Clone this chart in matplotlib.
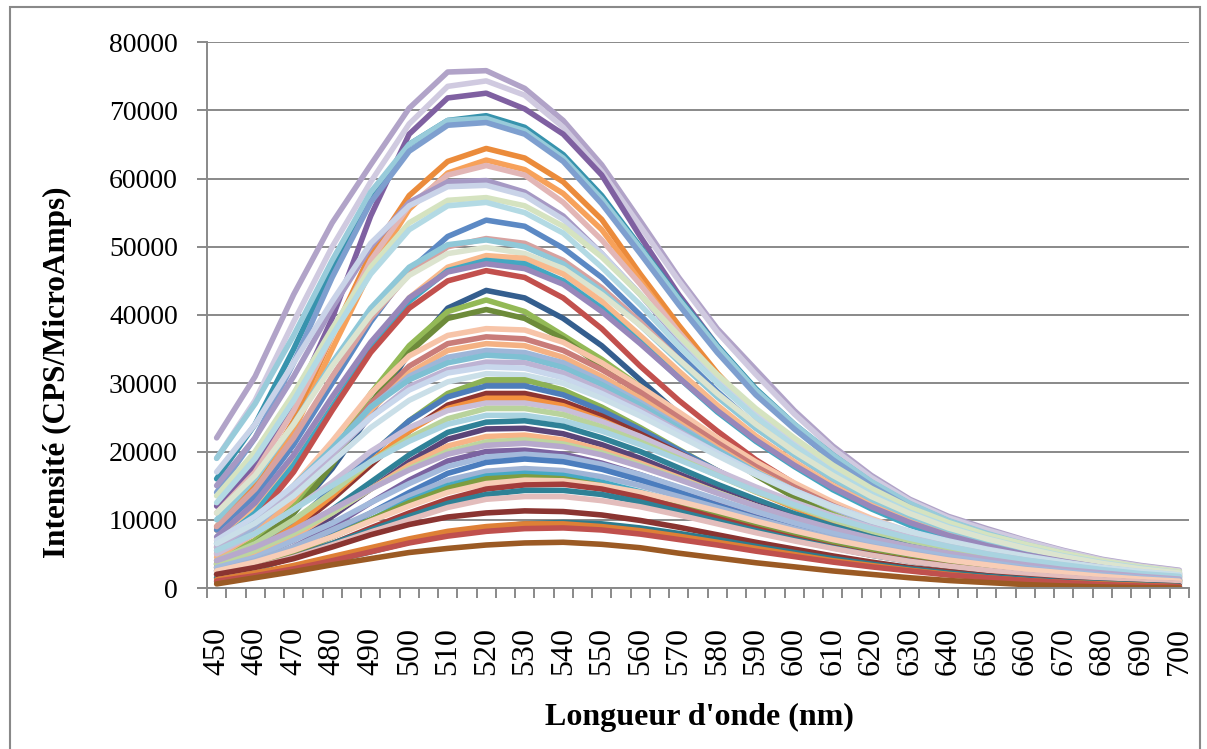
#Spectres de fluorescence - recreation du graphique Excel
import matplotlib
matplotlib.use("Agg")
import matplotlib.pyplot as plt
from matplotlib.patches import Rectangle
from matplotlib.ticker import FixedLocator

plt.rcParams['font.family'] = ['Liberation Serif', 'DejaVu Serif']

#Data (intensite en milliers de CPS/MicroAmps)
wavelengths = [450, 460, 470, 480, 490, 500, 510, 520, 530, 540, 550, 560, 570,
               580, 590, 600, 610, 620, 630, 640, 650, 660, 670, 680, 690, 700]
tick_labels = [str(w) for w in wavelengths]
y_ticks = [0, 10000, 20000, 30000, 40000, 50000, 60000, 70000, 80000]

s01 = [22.0, 31.0, 43.0, 53.5, 62.0, 70.3, 75.6, 75.8, 73.2, 68.5, 62.0, 53.8, 45.5, 38.0, 32.0, 26.0, 20.8, 16.5, 13.0, 10.5, 8.7, 7.0, 5.5, 4.2, 3.3, 2.6]
s02 = [19.0, 27.5, 39.0, 50.0, 59.5, 68.0, 73.5, 74.3, 72.2, 67.5, 61.0, 53.0, 45.0, 37.5, 31.3, 25.5, 20.4, 16.2, 12.8, 10.3, 8.5, 6.9, 5.4, 4.1, 3.2, 2.5]
s03 = [12.0, 18.0, 27.0, 39.5, 54.5, 66.5, 71.8, 72.5, 70.2, 66.5, 60.5, 51.5, 43.0, 35.5, 29.0, 23.5, 18.8, 14.8, 11.6, 9.2, 7.3, 5.8, 4.5, 3.4, 2.6, 2.0]
s04 = [16.0, 24.0, 35.0, 47.0, 57.5, 65.0, 68.5, 69.2, 67.5, 63.5, 57.5, 50.0, 42.5, 35.5, 29.2, 24.0, 19.5, 15.5, 12.3, 9.8, 7.9, 6.3, 5.0, 3.8, 2.9, 2.2]
s05 = [19.0, 27.0, 37.0, 48.0, 58.0, 65.0, 68.5, 68.8, 67.0, 63.0, 57.0, 49.8, 42.3, 35.3, 29.0, 24.0, 19.5, 15.6, 12.4, 9.9, 8.0, 6.4, 5.1, 3.9, 3.0, 2.3]
s06 = [14.0, 22.0, 33.0, 45.5, 56.5, 64.0, 67.8, 68.2, 66.5, 62.5, 56.3, 49.0, 41.5, 34.5, 28.3, 23.3, 18.8, 15.0, 11.8, 9.4, 7.5, 6.0, 4.7, 3.6, 2.7, 2.1]
s07 = [9.0, 15.0, 24.5, 37.0, 49.0, 57.5, 62.5, 64.4, 63.0, 59.5, 54.0, 46.0, 38.5, 31.5, 25.5, 21.0, 16.8, 13.3, 10.4, 8.2, 6.5, 5.2, 4.1, 3.1, 2.4, 1.8]
s08 = [8.5, 14.0, 23.0, 35.0, 46.5, 55.5, 60.8, 62.7, 61.3, 57.8, 52.5, 45.0, 37.5, 30.8, 25.0, 20.5, 16.3, 13.0, 10.2, 8.1, 6.5, 5.2, 4.1, 3.1, 2.4, 1.8]
s09 = [11.0, 17.0, 26.0, 37.0, 48.0, 56.0, 60.5, 61.9, 60.5, 56.5, 51.0, 44.5, 37.5, 31.0, 25.5, 21.0, 17.0, 13.6, 10.8, 8.6, 6.9, 5.5, 4.3, 3.3, 2.6, 2.0]
s10 = [15.0, 22.0, 31.0, 41.0, 50.0, 56.5, 59.5, 59.7, 58.0, 54.5, 49.0, 43.0, 36.5, 30.5, 25.3, 21.0, 17.0, 13.7, 11.0, 8.8, 7.1, 5.7, 4.5, 3.5, 2.7, 2.1]
s11 = [17.0, 24.0, 33.0, 42.0, 50.5, 56.0, 58.8, 59.0, 57.5, 54.0, 49.0, 43.0, 36.8, 31.0, 25.8, 21.5, 17.5, 14.2, 11.4, 9.2, 7.5, 6.1, 4.9, 3.8, 3.0, 2.3]
s12 = [13.5, 20.0, 28.5, 38.0, 47.0, 53.5, 56.8, 57.2, 56.0, 53.0, 48.5, 43.0, 37.0, 31.3, 26.3, 22.0, 18.0, 14.6, 11.8, 9.6, 7.8, 6.4, 5.1, 4.0, 3.1, 2.4]
s13 = [12.5, 19.0, 27.5, 37.0, 46.0, 52.5, 56.0, 56.5, 55.0, 52.0, 47.0, 41.5, 35.5, 30.0, 25.0, 20.8, 17.0, 13.8, 11.1, 9.0, 7.3, 5.9, 4.7, 3.7, 2.9, 2.2]
s14 = [8.5, 13.5, 21.0, 30.0, 39.0, 46.5, 51.5, 53.9, 53.0, 49.8, 45.5, 40.0, 34.3, 28.8, 23.8, 19.7, 16.0, 12.8, 10.2, 8.1, 6.4, 5.1, 4.0, 3.1, 2.4, 1.8]
s15 = [9.0, 14.5, 22.0, 31.0, 39.5, 46.0, 50.0, 51.2, 50.5, 48.0, 44.0, 39.0, 33.5, 28.2, 23.5, 19.5, 15.9, 12.8, 10.3, 8.2, 6.6, 5.3, 4.2, 3.3, 2.5, 1.9]
s16 = [10.0, 16.0, 24.0, 33.0, 41.0, 47.0, 50.3, 51.0, 50.0, 47.5, 43.5, 38.5, 33.2, 28.0, 23.4, 19.5, 16.0, 13.0, 10.5, 8.4, 6.8, 5.5, 4.4, 3.4, 2.6, 2.0]
s17 = [11.0, 16.5, 24.0, 32.5, 40.0, 45.8, 49.0, 49.9, 49.0, 46.8, 43.0, 38.5, 33.5, 28.5, 24.0, 20.0, 16.5, 13.4, 10.9, 8.8, 7.2, 5.8, 4.6, 3.6, 2.8, 2.2]
s18 = [7.0, 11.5, 18.5, 27.0, 35.5, 42.5, 47.0, 48.7, 48.3, 46.0, 42.0, 37.0, 31.8, 26.8, 22.3, 18.5, 15.0, 12.1, 9.7, 7.7, 6.1, 4.8, 3.8, 2.9, 2.2, 1.7]
s19 = [6.5, 11.0, 18.0, 26.5, 35.0, 42.0, 46.5, 48.0, 47.5, 45.0, 41.0, 36.0, 30.8, 25.8, 21.5, 17.8, 14.4, 11.6, 9.2, 7.3, 5.8, 4.6, 3.6, 2.8, 2.1, 1.6]
s20 = [7.5, 12.5, 19.5, 28.0, 36.0, 42.5, 46.3, 47.5, 46.8, 44.5, 40.5, 35.8, 30.8, 26.0, 21.7, 18.0, 14.7, 11.9, 9.6, 7.7, 6.2, 4.9, 3.9, 3.0, 2.3, 1.7]
s21 = [6.0, 10.0, 17.0, 26.0, 34.5, 41.0, 45.0, 46.5, 45.5, 42.5, 38.0, 32.5, 27.5, 23.0, 18.8, 15.3, 12.3, 9.8, 7.8, 6.2, 4.9, 3.8, 3.0, 2.3, 1.7, 1.3]
s22 = [3.5, 6.5, 11.0, 17.5, 25.5, 34.5, 41.0, 43.6, 42.5, 39.5, 35.5, 30.5, 25.5, 21.0, 17.0, 13.8, 11.0, 8.8, 7.0, 5.6, 4.4, 3.5, 2.7, 2.1, 1.6, 1.2]
s23 = [4.0, 7.0, 12.0, 19.5, 28.5, 35.5, 40.5, 42.2, 40.5, 37.0, 33.5, 29.5, 25.5, 21.3, 17.2, 13.8, 11.0, 8.8, 7.0, 5.5, 4.3, 3.4, 2.6, 2.0, 1.5, 1.1]
s24 = [3.5, 6.5, 11.0, 18.0, 27.0, 34.5, 39.5, 40.8, 39.5, 36.5, 32.5, 28.5, 24.5, 20.3, 16.5, 13.3, 10.6, 8.4, 6.6, 5.2, 4.1, 3.2, 2.5, 1.9, 1.4, 1.0]
s25 = [6.0, 9.5, 15.0, 21.5, 28.5, 34.0, 37.0, 38.0, 37.8, 36.0, 33.0, 29.5, 25.8, 22.0, 18.5, 15.4, 12.6, 10.2, 8.2, 6.6, 5.3, 4.2, 3.3, 2.6, 2.0, 1.5]
s26 = [5.0, 8.5, 13.5, 20.0, 27.0, 32.5, 35.8, 36.8, 36.5, 34.8, 32.0, 28.7, 25.0, 21.3, 17.8, 14.8, 12.1, 9.8, 7.9, 6.3, 5.0, 4.0, 3.1, 2.4, 1.8, 1.4]
s27 = [4.5, 8.0, 13.0, 19.5, 26.0, 31.5, 34.8, 35.8, 35.5, 33.8, 31.0, 27.8, 24.2, 20.6, 17.2, 14.3, 11.7, 9.5, 7.6, 6.1, 4.8, 3.8, 3.0, 2.3, 1.7, 1.3]
s28 = [5.5, 9.0, 14.0, 20.0, 26.5, 31.0, 33.8, 34.8, 34.5, 33.0, 30.3, 27.2, 23.8, 20.3, 17.0, 14.2, 11.7, 9.5, 7.7, 6.2, 5.0, 4.0, 3.2, 2.5, 1.9, 1.5]
s29 = [6.5, 10.0, 15.0, 20.5, 26.5, 30.5, 33.0, 34.1, 33.8, 32.3, 29.8, 26.8, 23.5, 20.2, 17.0, 14.3, 11.9, 9.8, 8.0, 6.5, 5.3, 4.3, 3.4, 2.7, 2.1, 1.6]
s30 = [6.0, 9.5, 14.0, 19.5, 25.0, 29.5, 32.0, 33.1, 33.0, 31.5, 29.0, 26.2, 23.0, 19.8, 16.8, 14.1, 11.8, 9.8, 8.0, 6.6, 5.4, 4.4, 3.5, 2.8, 2.2, 1.7]
s31 = [7.0, 10.5, 15.0, 20.0, 25.0, 29.0, 31.5, 32.4, 32.2, 30.8, 28.5, 25.8, 22.8, 19.8, 16.9, 14.3, 12.0, 10.0, 8.3, 6.9, 5.7, 4.7, 3.8, 3.0, 2.4, 1.9]
s32 = [6.5, 9.5, 13.5, 18.5, 23.5, 27.5, 30.2, 31.4, 31.2, 30.0, 27.8, 25.2, 22.3, 19.4, 16.6, 14.0, 11.8, 9.8, 8.2, 6.8, 5.6, 4.6, 3.7, 3.0, 2.4, 1.9]
s33 = [3.0, 5.5, 9.0, 14.0, 19.5, 24.5, 28.5, 30.5, 30.5, 29.0, 26.5, 23.5, 20.3, 17.2, 14.3, 11.8, 9.6, 7.8, 6.3, 5.0, 4.0, 3.2, 2.5, 1.9, 1.4, 1.0]
s34 = [3.5, 6.0, 9.5, 14.5, 19.5, 24.5, 28.0, 29.6, 29.6, 28.3, 26.0, 23.2, 20.2, 17.2, 14.4, 12.0, 9.8, 8.0, 6.5, 5.2, 4.2, 3.3, 2.6, 2.0, 1.5, 1.1]
s35 = [3.0, 5.0, 8.5, 13.0, 18.0, 23.0, 26.8, 28.5, 28.5, 27.3, 25.2, 22.6, 19.8, 17.0, 14.3, 11.9, 9.8, 8.0, 6.5, 5.2, 4.2, 3.3, 2.6, 2.0, 1.5, 1.1]
s36 = [3.5, 5.5, 9.0, 13.5, 18.5, 23.0, 26.3, 27.8, 27.8, 26.7, 24.6, 22.1, 19.4, 16.7, 14.1, 11.8, 9.8, 8.0, 6.5, 5.3, 4.3, 3.4, 2.7, 2.1, 1.6, 1.2]
s37 = [5.0, 8.0, 11.5, 15.5, 20.0, 23.5, 26.0, 27.1, 27.1, 26.2, 24.4, 22.2, 19.7, 17.2, 14.8, 12.6, 10.6, 8.9, 7.4, 6.1, 5.0, 4.1, 3.3, 2.6, 2.0, 1.6]
s38 = [4.0, 6.5, 10.0, 14.0, 18.5, 22.0, 24.8, 26.3, 26.3, 25.4, 23.6, 21.4, 19.0, 16.5, 14.1, 12.0, 10.0, 8.3, 6.9, 5.7, 4.6, 3.7, 3.0, 2.4, 1.8, 1.4]
s39 = [5.5, 8.0, 11.5, 15.0, 18.5, 21.5, 24.0, 25.3, 25.3, 24.5, 23.0, 21.0, 18.8, 16.5, 14.2, 12.2, 10.3, 8.7, 7.3, 6.1, 5.0, 4.1, 3.4, 2.7, 2.1, 1.7]
s40 = [2.5, 4.5, 7.5, 11.5, 15.5, 19.5, 22.8, 24.3, 24.5, 23.7, 22.0, 20.0, 17.6, 15.2, 13.0, 10.9, 9.1, 7.5, 6.1, 5.0, 4.0, 3.2, 2.5, 1.9, 1.4, 1.0]
s41 = [2.5, 4.5, 7.0, 10.5, 14.5, 18.5, 21.8, 23.3, 23.4, 22.6, 21.0, 19.0, 16.7, 14.4, 12.2, 10.3, 8.5, 7.0, 5.7, 4.6, 3.7, 2.9, 2.3, 1.7, 1.3, 0.9]
s42 = [3.0, 5.0, 7.5, 11.0, 14.5, 18.0, 20.8, 22.2, 22.4, 21.7, 20.2, 18.3, 16.2, 14.0, 12.0, 10.1, 8.4, 7.0, 5.8, 4.7, 3.8, 3.1, 2.4, 1.9, 1.4, 1.1]
s43 = [3.5, 5.5, 8.0, 11.0, 14.5, 17.5, 20.0, 21.4, 21.7, 21.1, 19.8, 18.0, 16.0, 14.0, 12.0, 10.2, 8.6, 7.2, 6.0, 4.9, 4.0, 3.2, 2.6, 2.0, 1.5, 1.2]
s44 = [4.0, 6.0, 8.5, 11.5, 14.5, 17.3, 19.6, 20.9, 21.2, 20.7, 19.5, 17.8, 15.9, 13.9, 12.0, 10.3, 8.7, 7.3, 6.1, 5.1, 4.2, 3.4, 2.7, 2.2, 1.7, 1.3]
s45 = [2.0, 3.5, 6.0, 9.0, 12.5, 15.8, 18.6, 20.0, 20.2, 19.6, 18.3, 16.6, 14.7, 12.7, 10.8, 9.1, 7.6, 6.2, 5.1, 4.1, 3.3, 2.6, 2.0, 1.5, 1.1, 0.8]
s46 = [3.0, 4.5, 7.0, 9.5, 12.5, 15.3, 17.8, 19.2, 19.6, 19.2, 18.1, 16.6, 14.8, 13.0, 11.2, 9.5, 8.0, 6.7, 5.6, 4.6, 3.8, 3.0, 2.4, 1.9, 1.5, 1.1]
s47 = [2.0, 3.5, 5.5, 8.0, 11.0, 14.0, 16.8, 18.4, 18.9, 18.5, 17.4, 15.8, 14.0, 12.1, 10.3, 8.7, 7.2, 5.9, 4.8, 3.9, 3.1, 2.5, 1.9, 1.5, 1.1, 0.8]
s48 = [2.5, 4.0, 6.0, 8.5, 11.0, 13.5, 15.8, 17.1, 17.5, 17.2, 16.3, 15.0, 13.4, 11.8, 10.2, 8.7, 7.3, 6.1, 5.1, 4.2, 3.4, 2.8, 2.2, 1.7, 1.3, 1.0]
s49 = [1.5, 3.0, 5.0, 7.5, 10.0, 12.8, 15.0, 16.4, 16.8, 16.5, 15.5, 14.1, 12.5, 10.8, 9.2, 7.7, 6.4, 5.2, 4.3, 3.5, 2.8, 2.2, 1.7, 1.3, 1.0, 0.7]
s50 = [2.0, 3.2, 5.2, 7.5, 10.0, 12.5, 14.6, 16.0, 16.3, 16.0, 15.0, 13.7, 12.2, 10.6, 9.0, 7.6, 6.3, 5.2, 4.2, 3.4, 2.7, 2.2, 1.7, 1.3, 1.0, 0.7]
s51 = [2.5, 3.8, 5.5, 7.5, 9.8, 12.0, 14.0, 15.3, 15.8, 15.7, 15.0, 14.0, 12.7, 11.3, 9.8, 8.4, 7.1, 6.0, 5.0, 4.1, 3.4, 2.7, 2.2, 1.7, 1.3, 1.0]
s52 = [1.5, 2.8, 4.5, 6.5, 8.8, 11.0, 13.0, 14.5, 15.1, 15.2, 14.5, 13.3, 11.8, 10.2, 8.7, 7.3, 6.0, 4.9, 4.0, 3.2, 2.5, 1.9, 1.5, 1.1, 0.8, 0.6]
s53 = [1.5, 2.8, 4.5, 6.5, 8.5, 10.5, 12.4, 13.7, 14.3, 14.3, 13.7, 12.6, 11.2, 9.8, 8.4, 7.1, 5.9, 4.8, 3.9, 3.1, 2.5, 1.9, 1.5, 1.1, 0.8, 0.6]
s54 = [2.0, 3.0, 4.5, 6.3, 8.2, 10.0, 11.8, 13.0, 13.4, 13.4, 12.8, 11.9, 10.7, 9.4, 8.1, 6.9, 5.8, 4.8, 3.9, 3.2, 2.6, 2.0, 1.6, 1.2, 0.9, 0.7]
s55 = [2.0, 3.0, 4.3, 6.0, 7.8, 9.3, 10.4, 11.0, 11.3, 11.2, 10.7, 9.9, 8.9, 7.8, 6.7, 5.7, 4.7, 3.8, 3.0, 2.4, 1.8, 1.4, 1.0, 0.7, 0.5, 0.3]
s56 = [1.0, 1.8, 2.8, 4.0, 5.3, 6.7, 7.9, 8.8, 9.4, 9.6, 9.4, 8.8, 8.0, 7.1, 6.1, 5.2, 4.3, 3.5, 2.8, 2.2, 1.7, 1.3, 0.9, 0.7, 0.5, 0.3]
s57 = [1.2, 2.2, 3.3, 4.6, 5.9, 7.2, 8.3, 9.0, 9.4, 9.4, 9.0, 8.4, 7.6, 6.7, 5.8, 4.9, 4.0, 3.3, 2.6, 2.0, 1.5, 1.1, 0.8, 0.6, 0.4, 0.2]
s58 = [1.0, 1.8, 2.8, 4.0, 5.3, 6.6, 7.6, 8.3, 8.7, 8.8, 8.5, 7.9, 7.1, 6.3, 5.4, 4.6, 3.8, 3.1, 2.5, 1.9, 1.5, 1.1, 0.8, 0.5, 0.3, 0.2]
s59 = [0.6, 1.5, 2.4, 3.4, 4.3, 5.2, 5.8, 6.3, 6.6, 6.7, 6.4, 5.9, 5.1, 4.4, 3.7, 3.1, 2.5, 2.0, 1.5, 1.1, 0.8, 0.5, 0.3, 0.15, 0.05, 0.0]

series = [s01, s02, s03, s04, s05, s06, s07, s08, s09, s10, s11, s12, s13, s14, s15,
          s16, s17, s18, s19, s20, s21, s22, s23, s24, s25, s26, s27, s28, s29, s30,
          s31, s32, s33, s34, s35, s36, s37, s38, s39, s40, s41, s42, s43, s44, s45,
          s46, s47, s48, s49, s50, s51, s52, s53, s54, s55, s56, s57, s58, s59]

colors = ['#B1A3C8', '#D0CAE0', '#7F60A1', '#3793AD', '#98CBDA', '#7E9FCF', '#EB8B3B',
          '#F7A15A', '#E2B6B6', '#A699C4', '#C9D3E8', '#D5E3C0', '#B3DAE4', '#5C89C4',
          '#D7A2A0', '#8FC8D8', '#DCE4CF', '#F8B98C', '#43A8C2', '#9887BA', '#C2504D',
          '#345E8E', '#93B956', '#6D8B3A', '#F7C4A8', '#C97C79', '#F4B183', '#9EB6D8',
          '#7EC0D3', '#BDB3D3', '#C8D7EC', '#CADFE8', '#8DB255', '#4D7DBA', '#8E3532',
          '#F3913F', '#C9BED8', '#B9D39C', '#A9D3E0', '#2F8197', '#5A4478', '#F7B487',
          '#BDD59F', '#B7A9CC', '#7B63A0', '#A3BADC', '#4B7DBE', '#9FB4D6', '#46A9C4',
          '#7E9D40', '#F8CDB6', '#A33D3B', '#2E8196', '#E3BDBC', '#8A3431', '#2C7B8E',
          '#DE8036', '#C0504D', '#9B5A24']

GRID = '#898989'

fig = plt.figure(figsize=(12.07, 7.49), dpi=100)
ax = fig.add_axes([207 / 1207, 1 - 588 / 749, 982 / 1207, 546 / 749])

for s, c in zip(series, colors):
    ax.plot(wavelengths, [v * 1000 for v in s], color=c, lw=4,
            solid_joinstyle='round', solid_capstyle='round')

ax.set_xlim(447.5, 702.5)
ax.set_ylim(0, 80000)

# y axis
ax.set_yticks(y_ticks)
ax.set_yticklabels([str(t) for t in y_ticks], fontsize=20)
ax.yaxis.grid(True, color=GRID, lw=1.4)
ax.set_axisbelow(True)

# x axis: labels on categories, tick marks between categories
ax.set_xticks(wavelengths)
ax.set_xticklabels(tick_labels, rotation=90, fontsize=23)
ax.xaxis.set_minor_locator(FixedLocator([447.5 + 5 * k for k in range(52)]))
ax.tick_params(axis='x', which='major', length=0, pad=28)
ax.tick_params(axis='x', which='minor', length=7, width=1.4, color=GRID)
ax.tick_params(axis='y', which='major', length=7, width=1.4, color=GRID, pad=14)

for side in ['top', 'right']:
    ax.spines[side].set_visible(False)
for side in ['left', 'bottom']:
    ax.spines[side].set_color(GRID)
    ax.spines[side].set_linewidth(1.4)

fig.text(57 / 1207, 1 - 372 / 749, 'Intensité (CPS/MicroAmps)', rotation=90,
         ha='center', va='center', fontsize=22.5, fontweight='bold')
fig.text(699 / 1207, 1 - 717 / 749, "Longueur d'onde (nm)",
         ha='center', va='center', fontsize=23, fontweight='bold')

# chart area border
fig.patches.append(Rectangle((10 / 1207, -0.1), 1190 / 1207, 1 - 7 / 749 + 0.1,
                             transform=fig.transFigure, fill=False,
                             ec=GRID, lw=1.5))

fig.savefig('out.png', dpi=100)
